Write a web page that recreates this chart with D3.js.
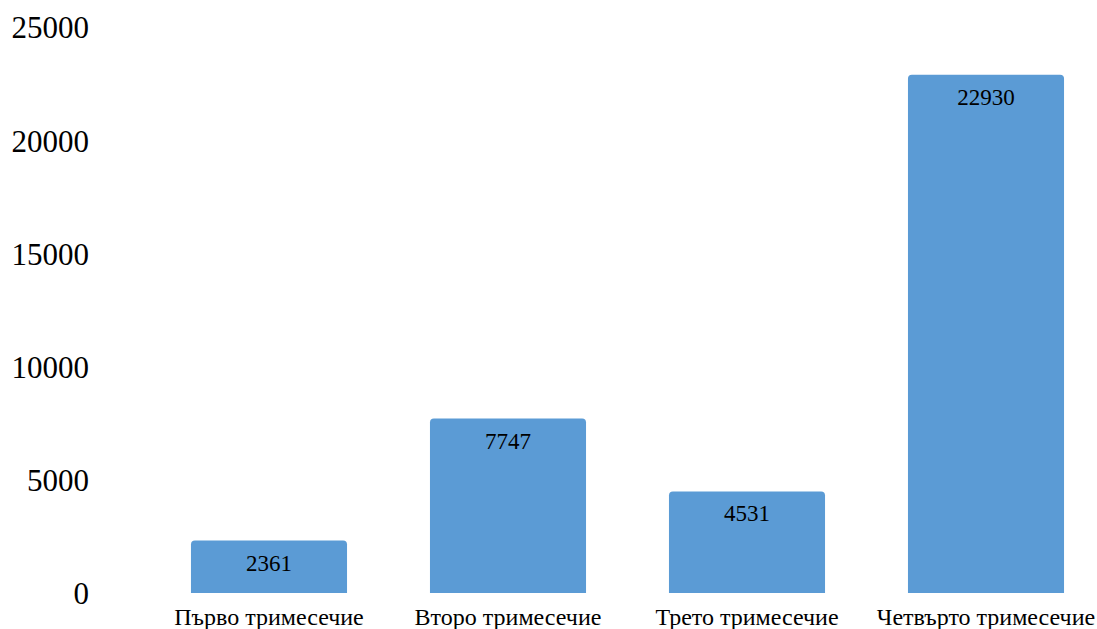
<!DOCTYPE html>
<html>
<head>
<meta charset="utf-8">
<script src="https://cdn.jsdelivr.net/npm/d3@7/dist/d3.min.js"></script>
<style>
html,body{margin:0;padding:0;background:#fff;}
svg{display:block;}
</style>
</head>
<body>
<svg id="chart" width="1097" height="629"></svg>
<script>
const categories = ["Първо тримесечие", "Второ тримесечие", "Трето тримесечие", "Четвърто тримесечие"];
const values = [2361, 7747, 4531, 22930];
const yTicks = [0, 5000, 10000, 15000, 20000, 25000];

const svg = d3.select("#chart");
const font = "'Liberation Serif', 'Times New Roman', serif";

const x = d3.scaleBand().domain(categories).range([149.5, 1105.5]).paddingInner(0.347).paddingOuter(0.1735);
const y = d3.scaleLinear().domain([0, 25000]).range([594, 28]);

// y axis labels
const yAxis = d3.axisLeft(y).tickValues(yTicks).tickSize(0).tickPadding(0).tickFormat(d => String(d));
const ya = svg.append("g").attr("transform", "translate(89,0)").call(yAxis);
ya.select(".domain").remove();
ya.selectAll("text").attr("font-family", font).attr("font-size", 31).attr("fill", "#000").attr("dy", "0.32em");

// bars with rounded top corners
const r = 4;
function barPath(x0, w, yTop, yBot) {
  return `M${x0},${yBot}V${yTop + r}Q${x0},${yTop} ${x0 + r},${yTop}H${x0 + w - r}Q${x0 + w},${yTop} ${x0 + w},${yTop + r}V${yBot}Z`;
}
const data = categories.map((c, i) => ({c, v: values[i]}));
svg.append("g").selectAll("path").data(data).join("path")
  .attr("d", d => barPath(x(d.c), x.bandwidth(), y(d.v), y(0) - 1))
  .attr("fill", "#5b9bd5");

// value labels
svg.append("g").selectAll("text").data(data).join("text")
  .attr("x", d => x(d.c) + x.bandwidth() / 2)
  .attr("y", d => y(d.v) + 30)
  .attr("text-anchor", "middle")
  .attr("font-family", font).attr("font-size", 23).attr("fill", "#000")
  .text(d => d.v);

// x axis labels
const xAxis = d3.axisBottom(x).tickSize(0).tickPadding(0);
const xa = svg.append("g").attr("transform", "translate(0,594)").call(xAxis);
xa.select(".domain").remove();
xa.selectAll("text").attr("font-family", font).attr("font-size", 24).attr("fill", "#000")
  .attr("y", 0).attr("dy", 0).attr("transform", "translate(0,31)");
</script>
</body>
</html>
